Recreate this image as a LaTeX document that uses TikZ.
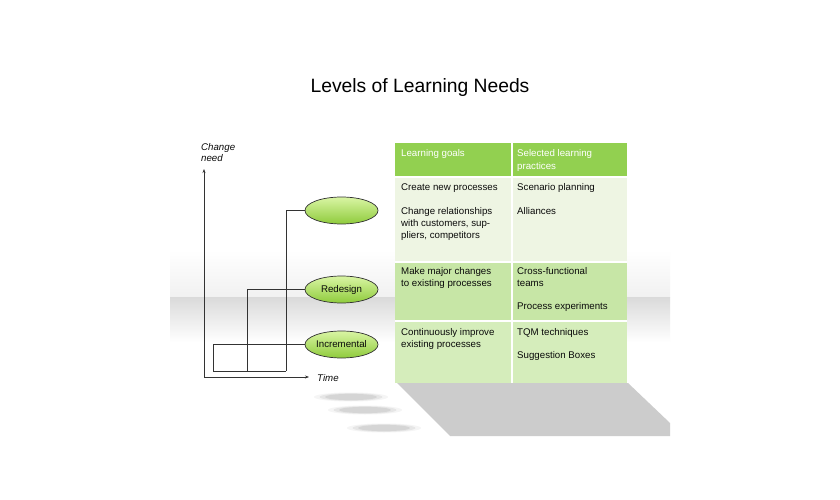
\documentclass[tikz,border=0pt]{standalone}
\usepackage{fontspec}
\setmainfont{Liberation Sans}
\usetikzlibrary{arrows.meta,shapes.geometric}
\definecolor{hdr}{HTML}{92D050}
\definecolor{rowa}{HTML}{EEF5E3}
\definecolor{rowb}{HTML}{C7E6A6}
\definecolor{rowc}{HTML}{D5EDBB}
\definecolor{bandtop}{HTML}{F1F1F1}
\definecolor{banddark}{HTML}{DADADA}
\definecolor{shadowgray}{HTML}{CCCCCC}
\definecolor{linegray}{HTML}{333333}
\definecolor{txt}{HTML}{0A0A0A}
\definecolor{elltop}{HTML}{D9F5A4}
\definecolor{ellbot}{HTML}{8FCB3C}
\tikzset{
  small/.style={font=\fontsize{9.7}{12}\selectfont, text=txt, inner sep=0pt, anchor=base west},
  hdrtext/.style={small, text=white},
  axislabel/.style={small, font=\fontsize{9.7}{12}\selectfont\itshape},
  lev/.style={ellipse, draw=linegray, line width=0.7pt, top color=elltop, bottom color=ellbot,
    minimum width=73pt, minimum height=27pt, inner sep=0pt, text=txt,
    font=\fontsize{9.7}{12}\selectfont},
  conn/.style={draw=linegray, line width=0.7pt},
  axis/.style={draw=linegray, line width=0.7pt, -{Stealth[length=4pt,width=3pt]}},
  sep/.style={draw=white, line width=1.2pt}
}
\begin{document}
\begin{tikzpicture}[x=1pt,y=-1pt]
\useasboundingbox (0,0) rectangle (840,500);
\fill[white] (0,0) rectangle (840,500);
% slide background band
\shade[top color=white, bottom color=bandtop] (170,250) rectangle (670,297);
\shade[top color=banddark, bottom color=white] (170,297) rectangle (670,342);
% table shadow
\fill[shadowgray] (397,383) -- (628,383) -- (670,423) -- (670,436) -- (450,436) -- cycle;
% ellipse shadows
\foreach \cx/\cy in {351/397, 365/410, 384/428}{
  \foreach \r/\o in {1.0/0.08, 0.85/0.12, 0.7/0.16}{
    \fill[gray, opacity=\o] (\cx,\cy) ellipse [x radius={37*\r}, y radius={4.5*\r}];
  }
}
% title
\node[font=\fontsize{19.3}{23}\selectfont, text=black, inner sep=0pt, anchor=base] (title) at (420,93) {Levels of Learning Needs};
% table cells
\fill[hdr] (395,143) rectangle (627,177);
\fill[rowa] (395,177) rectangle (627,262);
\fill[rowb] (395,262) rectangle (627,321);
\fill[rowc] (395,321) rectangle (627,383);
\draw[sep] (512,143) -- (512,383);
\draw[sep] (395,177) -- (627,177);
\draw[sep] (395,262) -- (627,262);
\draw[sep] (395,321) -- (627,321);
% header text
\node[hdrtext] (h1) at (401,156.5) {Learning goals};
\node[hdrtext] (h2) at (517,156.5) {Selected learning};
\node[hdrtext] (h2b) at (517,169) {practices};
% row 1
\node[small] (a1) at (401,190) {Create new processes};
\node[small] (a2) at (401,214) {Change relationships};
\node[small] (a3) at (401,226) {with customers, sup-};
\node[small] (a4) at (401,238) {pliers, competitors};
\node[small] (b1) at (517,190) {Scenario planning};
\node[small] (b2) at (517,214) {Alliances};
% row 2
\node[small] (a5) at (401,274) {Make major changes};
\node[small] (a6) at (401,286) {to existing processes};
\node[small] (b3) at (517,274) {Cross-functional};
\node[small] (b4) at (517,286) {teams};
\node[small] (b5) at (517,309.5) {Process experiments};
% row 3
\node[small] (a7) at (401,335) {Continuously improve};
\node[small] (a8) at (401,347) {existing processes};
\node[small] (b6) at (517,335) {TQM techniques};
\node[small] (b7) at (517,358) {Suggestion Boxes};
% axes
\coordinate (o) at (204,377);
\coordinate (ytip) at (204,169);
\coordinate (xtip) at (309,377);
\draw[axis] (o) -- (ytip);
\draw[axis] (o) -- (xtip);
\node[axislabel] (cn1) at (201,150) {Change};
\node[axislabel] (cn2) at (201,161.5) {need};
\node[axislabel] (time) at (317,381) {Time};
% level ellipses
\node[lev] (e1) at (341.5,210.5) {};
\node[lev] (e2) at (341.5,289.5) {Redesign};
\node[lev] (e3) at (341.5,344.5) {Incremental};
\coordinate (c1) at (286,371);
\coordinate (c2) at (247,371);
\coordinate (c3) at (213,371);
\draw[conn] (e1.west) -| (c1);
\draw[conn] (e2.west) -| (c2);
\draw[conn] (e3.west) -| (c3);
\draw[conn] (c3) -- (c1);
\end{tikzpicture}
\end{document}
